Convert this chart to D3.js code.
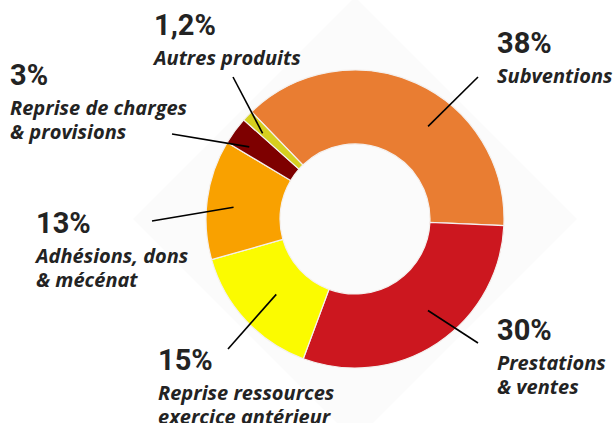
<!DOCTYPE html>
<html>
<head>
<meta charset="utf-8">
<script src="https://cdn.jsdelivr.net/npm/d3@7"></script>
<style>
  body { margin: 0; background: #fff; }
  svg { display: block; }
</style>
</head>
<body>
<div id="chart-area"></div>
<script>
// data (clockwise, starting upper left)
var categories = ["Subventions", "Prestations & ventes", "Reprise ressources exercice antérieur",
                  "Adhésions, dons & mécénat", "Reprise de charges & provisions", "Autres produits"];
var values = [38, 30, 15, 13, 3, 1.2];
var valueLabels = ["38%", "30%", "15%", "13%", "3%", "1,2%"];
var labelLines = [["Subventions"], ["Prestations", "& ventes"], ["Reprise ressources", "exercice antérieur"],
                  ["Adhésions, dons", "& mécénat"], ["Reprise de charges", "& provisions"], ["Autres produits"]];
var colors = ["#E97D32", "#CC171F", "#FBFB00", "#F9A100", "#7E0000", "#D6CF1F"];

// label layout: text anchor position, leader line outer end, inner end angle shift / radius
var labelPos = [
  { x: 497, y: 53, lx: 478, ly: 77, da: 14, r: 118 },
  { x: 497, y: 340, lx: 478, ly: 343, da: -5, r: 117 },
  { x: 158, y: 370, lx: 228, ly: 349, da: -1, r: 109 },
  { x: 36, y: 233, lx: 152, ly: 221, da: -2, r: 122 },
  { x: 10, y: 85, lx: 172, ly: 134, da: -2, r: 128 },
  { x: 154, y: 35, lx: 233, ly: 77, da: -1, r: 126 }
];

var svgWidth = 614, svgHeight = 423;
var cx = 355, cy = 219;
var outerR = 149, innerR = 75;

var svg = d3.select("#chart-area").append("svg")
            .attr("width", svgWidth)
            .attr("height", svgHeight);

// faint diamond behind the donut
var half = 222;
svg.append("path")
   .attr("d", "M" + cx + "," + (cy - half) + "L" + (cx + half) + "," + cy +
              "L" + cx + "," + (cy + half) + "L" + (cx - half) + "," + cy + "Z")
   .attr("fill", "#fbfbfb");

var graph = svg.append("g")
               .attr("transform", "translate(" + cx + "," + cy + ")");

var startDeg = -44;
var pie = d3.pie()
            .sort(null)
            .startAngle(startDeg * Math.PI / 180)
            .endAngle((startDeg + 360) * Math.PI / 180);

var arc = d3.arc().innerRadius(innerR).outerRadius(outerR);

var arcs = pie(values);

graph.append("g")
     .attr("class", "slices")
     .selectAll("path")
     .data(arcs)
     .enter()
     .append("path")
     .attr("d", arc)
     .attr("fill", (d, i) => colors[i])
     .attr("stroke", "#f4f0ee")
     .attr("stroke-width", 1.2);

// leader lines
graph.append("g")
     .attr("class", "leaders")
     .selectAll("line")
     .data(arcs)
     .enter()
     .append("line")
     .attr("x1", (d, i) => {
        var a = (d.startAngle + d.endAngle) / 2 + labelPos[i].da * Math.PI / 180;
        return labelPos[i].r * Math.sin(a);
     })
     .attr("y1", (d, i) => {
        var a = (d.startAngle + d.endAngle) / 2 + labelPos[i].da * Math.PI / 180;
        return -labelPos[i].r * Math.cos(a);
     })
     .attr("x2", (d, i) => labelPos[i].lx - cx)
     .attr("y2", (d, i) => labelPos[i].ly - cy)
     .attr("stroke", "#000")
     .attr("stroke-width", 1.6);

// labels
var labels = svg.append("g")
                .attr("class", "labels")
                .selectAll("g")
                .data(categories)
                .enter()
                .append("g")
                .attr("transform", (d, i) => "translate(" + labelPos[i].x + "," + labelPos[i].y + ")");

labels.append("text")
      .attr("font-family", "Roboto, 'DejaVu Sans', sans-serif")
      .attr("font-weight", "bold")
      .attr("font-size", "29px")
      .attr("fill", "#232323")
      .text((d, i) => valueLabels[i]);

labels.each(function(d, i) {
   var t = d3.select(this).append("text")
             .attr("font-family", "'Open Sans', Roboto, sans-serif")
             .attr("font-weight", "bold")
             .attr("font-style", "italic")
             .attr("font-size", "20px")
             .attr("fill", "#232323");
   labelLines[i].forEach((line, j) => {
      t.append("tspan")
       .attr("x", 0)
       .attr("y", 30 + j * 24)
       .text(line);
   });
});
</script>
</body>
</html>
